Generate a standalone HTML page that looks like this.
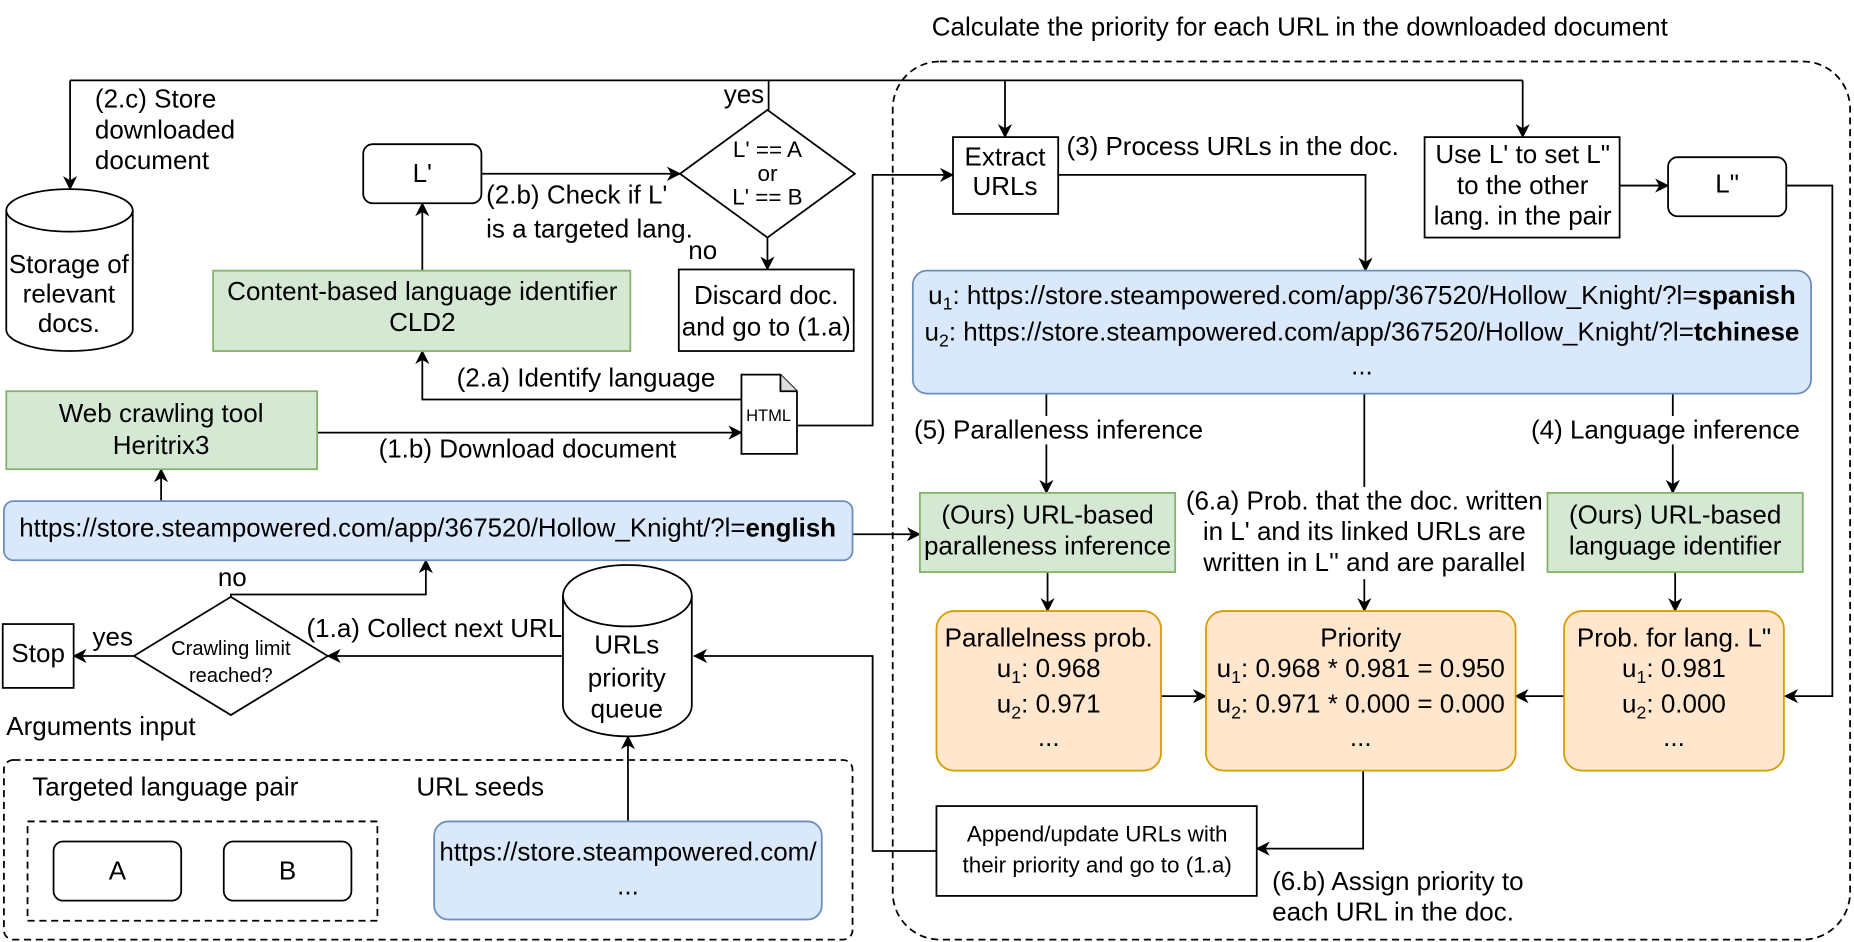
<!DOCTYPE html>
<html><head><meta charset="utf-8"><style>
html,body{margin:0;padding:0;background:#fff;}
svg{display:block;}
text{font-family:"Liberation Sans",Arial,sans-serif;font-size:22px;fill:#000;}
</style></head><body>
<svg width="1854" height="942" viewBox="0 0 1568 797" xmlns="http://www.w3.org/2000/svg">
<defs>
<marker id="a" markerWidth="12" markerHeight="12" refX="11" refY="6" orient="auto" markerUnits="userSpaceOnUse">
<path d="M0,0 L12,6 L0,12 L3.5,6 Z" fill="#000"/>
</marker>
</defs>
<g fill="none" stroke="#000" stroke-width="1.5">
<rect x="755" y="52" width="810" height="743" rx="40" stroke-dasharray="6,4"/>
<rect x="3" y="643" width="718" height="152" rx="8" stroke-dasharray="6,4"/>
<rect x="23" y="695" width="296" height="84" stroke-dasharray="6,4"/>
<path d="M59,68 H1288"/>
<path d="M59,68 V160" marker-end="url(#a)"/>
<path d="M850,68 V116" marker-end="url(#a)"/>
<path d="M1288,68 V116" marker-end="url(#a)"/>
<path d="M650,68 V93"/>
<path d="M407,147 H575" marker-end="url(#a)"/>
<path d="M649,201 V228" marker-end="url(#a)"/>
<path d="M357,229 V172" marker-end="url(#a)"/>
<path d="M627,338 H357 V297" marker-end="url(#a)"/>
<path d="M268,366 H627" marker-end="url(#a)"/>
<path d="M674,360 H738 V148 H806" marker-end="url(#a)"/>
<path d="M895,148 H1155 V229" marker-end="url(#a)"/>
<path d="M1370,157 H1411" marker-end="url(#a)"/>
<path d="M1511,157 H1550 V589 H1510" marker-end="url(#a)"/>
<path d="M885,333 V417" marker-end="url(#a)"/>
<path d="M1154,333 V517" marker-end="url(#a)"/>
<path d="M1415,333 V417" marker-end="url(#a)"/>
<path d="M136,424 V397" marker-end="url(#a)"/>
<path d="M721,452 H778" marker-end="url(#a)"/>
<path d="M886,484 V517" marker-end="url(#a)"/>
<path d="M1417,484 V517" marker-end="url(#a)"/>
<path d="M982,589 H1020" marker-end="url(#a)"/>
<path d="M1323,589 H1282" marker-end="url(#a)"/>
<path d="M1153,652 V718 H1063" marker-end="url(#a)"/>
<path d="M792,720 H738 V555 H587" marker-end="url(#a)"/>
<path d="M531,695 V623" marker-end="url(#a)"/>
<path d="M476,555 H277" marker-end="url(#a)"/>
<path d="M195,505 V503 H360 V474" marker-end="url(#a)"/>
<path d="M113,555 H62" marker-end="url(#a)"/>
</g>
<rect x="771" y="352" width="250" height="24" fill="#fff"/>
<rect x="1292" y="352" width="232" height="24" fill="#fff"/>
<rect x="1002" y="412" width="304" height="78" fill="#fff"/>
<g stroke="#000" stroke-width="1.5">
<rect x="45" y="712" width="108" height="50" rx="8" fill="#fff"/>
<rect x="189" y="712" width="108" height="50" rx="8" fill="#fff"/>
<rect x="367" y="695" width="328" height="83" rx="12" fill="#dae8fc" stroke="#6c8ebf"/>
<rect x="307" y="122" width="100" height="50" rx="8" fill="#fff"/>
<path d="M649,93 L723,147 L649,201 L575,147 Z" fill="#fff"/>
<rect x="574" y="228" width="148" height="69" fill="#fff"/>
<rect x="180" y="229" width="353" height="68" fill="#d5e8d4" stroke="#82b366"/>
<path d="M627,317 H660 L674,331 V384 H627 Z" fill="#fff"/>
<path d="M660,317 V331 H674" fill="#ddd"/>
<rect x="5" y="331" width="263" height="66" fill="#d5e8d4" stroke="#82b366"/>
<rect x="806" y="116" width="89" height="65" fill="#fff"/>
<rect x="1205" y="116" width="165" height="85" fill="#fff"/>
<rect x="1411" y="133" width="100" height="50" rx="8" fill="#fff"/>
<rect x="772" y="229" width="760" height="104" rx="12" fill="#dae8fc" stroke="#6c8ebf"/>
<rect x="3" y="424" width="718" height="50" rx="8" fill="#dae8fc" stroke="#6c8ebf"/>
<rect x="778" y="417" width="216" height="67" fill="#d5e8d4" stroke="#82b366"/>
<rect x="1309" y="417" width="216" height="67" fill="#d5e8d4" stroke="#82b366"/>
<rect x="792" y="517" width="190" height="135" rx="15" fill="#ffe6cc" stroke="#d79b00"/>
<rect x="1020" y="517" width="262" height="135" rx="15" fill="#ffe6cc" stroke="#d79b00"/>
<rect x="1323" y="517" width="186" height="135" rx="15" fill="#ffe6cc" stroke="#d79b00"/>
<rect x="792" y="682" width="271" height="76" fill="#fff"/>
<path d="M195,505 L277,555 L195,605 L113,555 Z" fill="#fff"/>
<rect x="2" y="528" width="60" height="54" fill="#fff"/>
<path d="M5,178 V279 A53.5,18 0 0 0 112,279 V178" fill="#fff"/>
<ellipse cx="58.5" cy="178" rx="53.5" ry="18" fill="#fff"/>
<path d="M476,504 V597 A54.5,26 0 0 0 585,597 V504" fill="#fff"/>
<ellipse cx="530.5" cy="504" rx="54.5" ry="26" fill="#fff"/>
</g>
<text x="788" y="30">Calculate the priority for each URL in the downloaded document</text>
<text x="5" y="622">Arguments input</text>
<text x="27" y="673">Targeted language pair</text>
<text x="352" y="673">URL seeds</text>
<g text-anchor="middle">
<text x="99" y="744">A</text>
<text x="243" y="744">B</text>
<text x="531" y="728">https://store.steampowered.com/</text>
<text x="531" y="757">...</text>
<text x="357" y="154">L'</text>
<text x="649" y="133" style="font-size:19px">L' == A</text>
<text x="649" y="153" style="font-size:19px">or</text>
<text x="649" y="173" style="font-size:19px">L' == B</text>
<text x="648" y="257">Discard doc.</text>
<text x="648" y="284">and go to (1.a)</text>
<text x="357" y="254">Content-based language identifier</text>
<text x="357" y="280">CLD2</text>
<text x="650" y="356" style="font-size:14px">HTML</text>
<text x="136" y="357">Web crawling tool</text>
<text x="136" y="384">Heritrix3</text>
<text x="58" y="231">Storage of</text>
<text x="58" y="256">relevant</text>
<text x="58" y="281">docs.</text>
<text x="850" y="140">Extract</text>
<text x="850" y="165">URLs</text>
<text x="1288" y="138">Use L' to set L"</text>
<text x="1288" y="164">to the other</text>
<text x="1288" y="190">lang. in the pair</text>
<text x="1461" y="163">L"</text>
<text x="1152" y="257"><tspan>u</tspan><tspan dy="5" style="font-size:15px">1</tspan><tspan dy="-5">: https://store.steampowered.com/app/367520/Hollow_Knight/?l=</tspan><tspan font-weight="bold">spanish</tspan></text>
<text x="1152" y="288"><tspan>u</tspan><tspan dy="5" style="font-size:15px">2</tspan><tspan dy="-5">: https://store.steampowered.com/app/367520/Hollow_Knight/?l=</tspan><tspan font-weight="bold">tchinese</tspan></text>
<text x="1152" y="317">...</text>
<text x="886" y="443">(Ours) URL-based</text>
<text x="886" y="469">paralleness inference</text>
<text x="1417" y="443">(Ours) URL-based</text>
<text x="1417" y="469">language identifier</text>
<text x="1154" y="431">(6.a) Prob. that the doc. written</text>
<text x="1154" y="457">in L' and its linked URLs are</text>
<text x="1154" y="483">written in L'' and are parallel</text>
<text x="887" y="547">Parallelness prob.</text>
<text x="887" y="573"><tspan>u</tspan><tspan dy="5" style="font-size:15px">1</tspan><tspan dy="-5">: 0.968</tspan></text>
<text x="887" y="603"><tspan>u</tspan><tspan dy="5" style="font-size:15px">2</tspan><tspan dy="-5">: 0.971</tspan></text>
<text x="887" y="631">...</text>
<text x="1151" y="547">Priority</text>
<text x="1151" y="573"><tspan>u</tspan><tspan dy="5" style="font-size:15px">1</tspan><tspan dy="-5">: 0.968 * 0.981 = 0.950</tspan></text>
<text x="1151" y="603"><tspan>u</tspan><tspan dy="5" style="font-size:15px">2</tspan><tspan dy="-5">: 0.971 * 0.000 = 0.000</tspan></text>
<text x="1151" y="631">...</text>
<text x="1416" y="547">Prob. for lang. L"</text>
<text x="1416" y="573"><tspan>u</tspan><tspan dy="5" style="font-size:15px">1</tspan><tspan dy="-5">: 0.981</tspan></text>
<text x="1416" y="603"><tspan>u</tspan><tspan dy="5" style="font-size:15px">2</tspan><tspan dy="-5">: 0.000</tspan></text>
<text x="1416" y="631">...</text>
<text x="928" y="712" style="font-size:19px">Append/update URLs with</text>
<text x="928" y="738" style="font-size:19px">their priority and go to (1.a)</text>
<text x="530" y="553">URLs</text>
<text x="530" y="581">priority</text>
<text x="530" y="607">queue</text>
<text x="195" y="554" style="font-size:17px">Crawling limit</text>
<text x="195" y="577" style="font-size:17px">reached?</text>
<text x="32" y="560">Stop</text>
</g>
<text x="80" y="91">(2.c) Store</text>
<text x="80" y="117">downloaded</text>
<text x="80" y="143">document</text>
<text x="612" y="87">yes</text>
<text x="582" y="219">no</text>
<text x="411" y="172">(2.b) Check if L'</text>
<text x="411" y="201">is a targeted lang.</text>
<text x="386" y="327">(2.a) Identify language</text>
<text x="320" y="387">(1.b) Download document</text>
<text x="902" y="131">(3) Process URLs in the doc.</text>
<text x="773" y="371">(5) Paralleness inference</text>
<text x="1295" y="371">(4) Language inference</text>
<text x="16" y="454" textLength="691" lengthAdjust="spacingAndGlyphs">https://store.steampowered.com/app/367520/Hollow_Knight/?l=<tspan font-weight="bold">english</tspan></text>
<text x="1076" y="753">(6.b) Assign priority to</text>
<text x="1076" y="779">each URL in the doc.</text>
<text x="259" y="539">(1.a) Collect next URL</text>
<text x="78" y="546">yes</text>
<text x="184" y="496">no</text>
</svg>
</body></html>
